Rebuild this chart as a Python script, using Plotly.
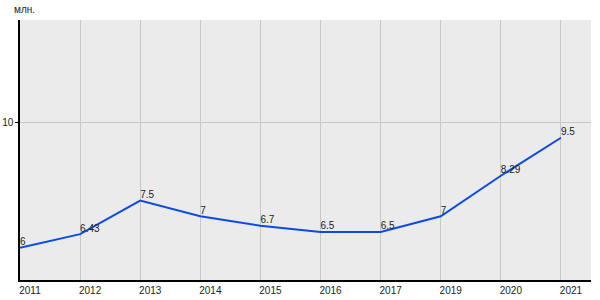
import plotly.graph_objects as go

years = ["2011", "2012", "2013", "2014", "2015", "2016", "2017", "2019", "2020", "2021"]
values = [6, 6.43, 7.5, 7, 6.7, 6.5, 6.5, 7, 8.29, 9.5]
labels = ["6", "6.43", "7.5", "7", "6.7", "6.5", "6.5", "7", "8.29", "9.5"]
y_tick_vals = [10]
unit_label = "млн."

fig = go.Figure()
fig.add_trace(go.Scatter(
    x=years, y=values, mode="lines+text", text=labels,
    textposition="top right",
    textfont=dict(family="Liberation Sans, Arial", size=10, color="#222222"),
    line=dict(color="#0a4be6", width=2),
    cliponaxis=False, hoverinfo="skip",
))

fig.update_layout(
    width=600, height=300,
    margin=dict(l=20, r=9, t=20, b=20),
    paper_bgcolor="white", plot_bgcolor="#ebebeb",
    showlegend=False,
    font=dict(family="Liberation Sans, Arial", size=10, color="#222222"),
)
fig.update_xaxes(
    type="category", range=[0, 9.5], automargin=False,
    showgrid=True, gridcolor="#c8c8c8", gridwidth=1,
    showline=True, linecolor="black", linewidth=1.5,
    ticks="", ticklabelshift=10, ticklabelstandoff=0,
    tickfont=dict(size=10, color="#222222"),
    zeroline=False,
)
fig.update_yaxes(
    range=[4.97, 13.25], tickvals=y_tick_vals, automargin=False,
    showgrid=True, gridcolor="#c8c8c8", gridwidth=1,
    showline=True, linecolor="black", linewidth=1.5,
    ticks="outside", ticklen=3, tickcolor="black",
    tickfont=dict(size=10, color="#222222"),
    zeroline=False,
)
fig.add_annotation(
    text=unit_label, xref="paper", yref="paper", x=0, y=1,
    xanchor="left", yanchor="bottom", yshift=3, xshift=-8, showarrow=False,
    font=dict(size=10, color="#222222"),
)
fig.write_html("out.html")
